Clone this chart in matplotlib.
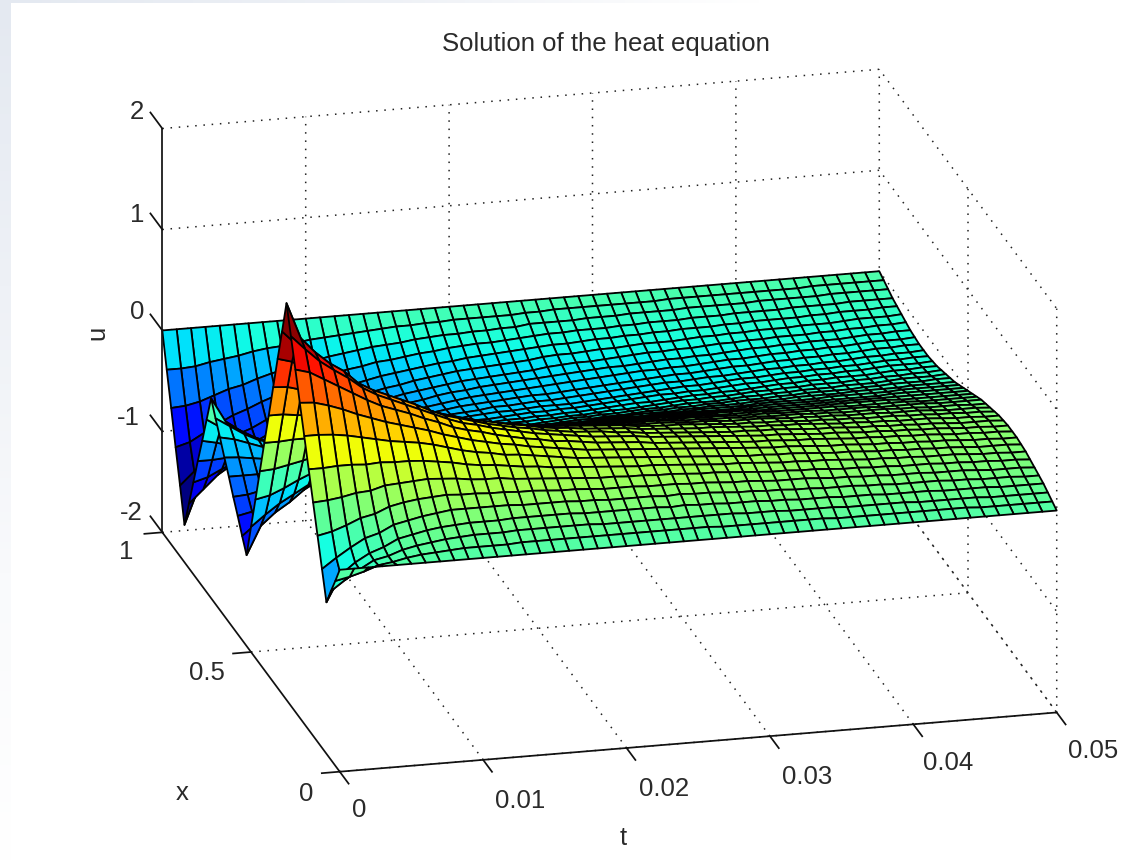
import matplotlib
matplotlib.use('Agg')
import matplotlib.pyplot as plt
import numpy as np
from matplotlib.colors import LinearSegmentedColormap

plt.rcParams['font.family'] = ['Liberation Sans', 'DejaVu Sans']

# Mesh nodes
t_nodes = [0.000, 0.001, 0.002, 0.003, 0.004, 0.005, 0.006, 0.007, 0.008, 0.009,
           0.010, 0.011, 0.012, 0.013, 0.014, 0.015, 0.016, 0.017, 0.018, 0.019,
           0.020, 0.021, 0.022, 0.023, 0.024, 0.025, 0.026, 0.027, 0.028, 0.029,
           0.030, 0.031, 0.032, 0.033, 0.034, 0.035, 0.036, 0.037, 0.038, 0.039,
           0.040, 0.041, 0.042, 0.043, 0.044, 0.045, 0.046, 0.047, 0.048, 0.049, 0.050]
x_nodes = [0.000, 0.025, 0.050, 0.075, 0.100, 0.125, 0.150, 0.175, 0.200, 0.225,
           0.250, 0.275, 0.300, 0.325, 0.350, 0.375, 0.400, 0.425, 0.450, 0.475,
           0.500, 0.525, 0.550, 0.575, 0.600, 0.625, 0.650, 0.675, 0.700, 0.725,
           0.750, 0.775, 0.800, 0.825, 0.850, 0.875, 0.900, 0.925, 0.950, 0.975, 1.000]

# u, in hundredths: one row per t, one column per x
u_hundredths = [
    [0,-17,-33,-50,-23,4,31,58,85,112,139,166,193,159,126,92,58,25,-9,-43,-76,-110,-97,-83,-70,-56,-43,-29,-16,-2,-29,-56,-82,-109,-136,-163,-130,-98,-65,-33,0],
    [0,-14,-23,-24,-13,7,32,58,85,111,135,152,157,145,122,91,58,25,-8,-40,-65,-82,-86,-80,-69,-56,-44,-32,-25,-26,-38,-59,-82,-105,-123,-127,-117,-94,-64,-33,0],
    [0,-10,-14,-13,-4,12,34,59,84,107,127,139,142,132,114,87,56,26,-5,-34,-55,-70,-76,-74,-66,-56,-46,-37,-34,-36,-47,-63,-81,-98,-110,-113,-104,-86,-61,-32,0],
    [0,-5,-6,-5,4,18,37,59,82,102,119,129,130,122,106,83,55,26,-2,-27,-47,-61,-68,-67,-63,-56,-48,-42,-41,-44,-52,-65,-79,-92,-101,-102,-94,-78,-56,-29,0],
    [0,-3,-3,0,8,21,38,58,79,96,111,120,121,114,99,79,54,27,2,-21,-39,-50,-55,-55,-53,-49,-45,-43,-45,-50,-58,-68,-78,-87,-92,-91,-84,-71,-51,-27,0],
    [0,0,2,7,15,27,42,59,76,91,103,109,108,101,88,69,47,24,2,-17,-32,-42,-48,-49,-47,-44,-42,-41,-44,-49,-57,-67,-76,-84,-88,-86,-79,-66,-48,-25,0],
    [0,2,5,10,18,30,43,58,73,86,96,101,100,94,81,65,45,25,5,-13,-27,-37,-43,-45,-45,-44,-43,-44,-46,-51,-58,-66,-73,-79,-81,-79,-72,-60,-43,-22,0],
    [0,3,7,13,21,32,44,58,71,82,91,95,94,88,76,61,44,25,7,-9,-23,-33,-39,-43,-44,-44,-44,-45,-48,-53,-58,-65,-71,-75,-76,-74,-67,-55,-39,-20,0],
    [0,4,9,15,23,33,45,57,69,78,86,89,88,82,72,58,42,25,9,-7,-19,-29,-36,-40,-42,-44,-45,-47,-49,-54,-58,-64,-69,-72,-72,-69,-62,-50,-36,-19,0],
    [0,5,10,16,25,34,44,55,66,74,80,83,82,76,67,55,41,25,10,-4,-16,-26,-33,-37,-41,-43,-45,-47,-50,-53,-58,-62,-66,-68,-67,-64,-57,-46,-33,-17,0],
    [0,5,11,17,25,33,43,53,62,69,75,77,75,70,62,51,38,24,10,-2,-14,-23,-30,-35,-38,-41,-43,-45,-48,-52,-55,-59,-62,-63,-62,-59,-52,-42,-30,-15,0],
    [0,5,11,17,25,33,41,50,58,65,69,71,69,65,57,48,36,23,11,-1,-11,-20,-27,-32,-36,-39,-41,-44,-47,-50,-53,-56,-58,-59,-57,-54,-47,-38,-27,-14,0],
    [0,5,11,17,25,32,40,48,55,61,65,66,65,61,54,45,34,23,11,0,-10,-18,-25,-30,-34,-37,-40,-43,-46,-48,-51,-54,-55,-55,-54,-50,-44,-35,-25,-13,0],
    [0,6,12,18,25,32,40,47,53,58,62,63,61,57,51,43,33,22,12,1,-8,-16,-23,-29,-33,-37,-40,-43,-45,-48,-50,-52,-53,-53,-51,-47,-41,-33,-23,-12,0],
    [0,6,12,18,24,31,38,45,50,55,58,59,57,54,48,40,31,21,12,2,-7,-15,-21,-27,-31,-35,-38,-41,-44,-46,-48,-50,-50,-50,-48,-44,-38,-30,-21,-11,0],
    [0,6,12,18,24,31,37,43,49,53,55,56,54,51,45,38,30,21,12,3,-6,-13,-20,-25,-30,-34,-37,-40,-43,-45,-47,-48,-49,-48,-45,-42,-36,-29,-20,-10,0],
    [0,6,12,18,24,30,36,42,47,50,52,53,51,48,43,36,29,20,12,3,-5,-12,-18,-24,-29,-33,-36,-39,-42,-44,-46,-47,-47,-46,-43,-39,-34,-27,-19,-9,0],
    [0,6,12,18,24,29,35,40,45,48,50,50,49,46,41,35,28,20,12,4,-4,-11,-17,-23,-28,-32,-35,-38,-41,-43,-44,-45,-45,-43,-41,-37,-32,-25,-17,-9,0],
    [0,6,12,17,23,29,34,39,43,46,47,48,46,43,39,33,27,19,12,4,-3,-10,-16,-22,-27,-31,-34,-37,-39,-41,-43,-43,-43,-41,-39,-35,-30,-24,-16,-8,0],
    [0,6,11,17,23,28,33,38,41,44,46,46,44,41,37,32,26,19,11,4,-3,-10,-15,-21,-26,-30,-33,-36,-39,-40,-42,-42,-41,-40,-37,-33,-29,-22,-15,-8,0],
    [0,6,11,17,22,27,32,37,40,42,44,44,42,40,36,31,25,18,11,4,-2,-9,-15,-20,-25,-29,-32,-35,-38,-39,-40,-41,-40,-38,-36,-32,-27,-21,-15,-7,0],
    [0,6,11,17,22,27,32,36,39,41,42,42,41,38,35,30,24,18,11,5,-2,-8,-14,-19,-24,-29,-32,-35,-37,-39,-40,-40,-39,-37,-35,-31,-26,-20,-14,-7,0],
    [0,6,11,17,22,27,31,35,38,40,41,41,40,37,34,29,24,18,11,5,-2,-8,-14,-19,-24,-28,-31,-34,-36,-38,-39,-39,-38,-36,-34,-30,-25,-20,-14,-7,0],
    [0,6,11,17,22,26,31,34,37,39,40,40,38,36,33,28,23,17,11,5,-1,-7,-13,-18,-23,-27,-31,-34,-36,-37,-38,-38,-37,-35,-33,-29,-24,-19,-13,-7,0],
    [0,6,11,16,21,26,30,34,36,38,39,39,37,35,32,27,22,17,11,5,-1,-7,-13,-18,-22,-26,-30,-33,-35,-37,-38,-38,-36,-34,-32,-28,-23,-18,-13,-7,0],
    [0,6,11,17,22,26,30,33,35,37,37,37,35,33,30,26,22,17,11,6,0,-6,-11,-17,-22,-26,-30,-33,-35,-37,-37,-37,-35,-33,-30,-26,-22,-17,-11,-6,0],
    [0,6,11,16,21,25,29,32,34,36,36,36,34,32,29,25,21,16,11,6,0,-6,-11,-16,-21,-25,-29,-32,-34,-36,-36,-36,-34,-32,-29,-25,-21,-16,-11,-6,0],
    [0,5,11,16,21,25,28,31,33,35,35,35,33,31,28,25,21,16,11,5,0,-5,-11,-16,-21,-25,-28,-31,-33,-35,-35,-35,-33,-31,-28,-25,-21,-16,-11,-5,0],
    [0,5,11,15,20,24,28,30,32,34,34,34,32,30,28,24,20,15,11,5,0,-5,-11,-15,-20,-24,-28,-30,-32,-34,-34,-34,-32,-30,-28,-24,-20,-15,-11,-5,0],
    [0,5,10,15,19,23,27,29,31,33,33,33,31,29,27,23,19,15,10,5,0,-5,-10,-15,-19,-23,-27,-29,-31,-33,-33,-33,-31,-29,-27,-23,-19,-15,-10,-5,0],
    [0,5,10,15,19,23,26,29,30,32,32,32,30,29,26,23,19,15,10,5,0,-5,-10,-15,-19,-23,-26,-29,-30,-32,-32,-32,-30,-29,-26,-23,-19,-15,-10,-5,0],
    [0,5,10,14,18,22,25,28,29,31,31,31,29,28,25,22,18,14,10,5,0,-5,-10,-14,-18,-22,-25,-28,-29,-31,-31,-31,-29,-28,-25,-22,-18,-14,-10,-5,0],
    [0,5,9,14,18,21,24,27,29,30,30,30,29,27,24,21,18,14,9,5,0,-5,-9,-14,-18,-21,-24,-27,-29,-30,-30,-30,-29,-27,-24,-21,-18,-14,-9,-5,0],
    [0,5,9,13,17,21,24,26,28,29,30,29,28,26,24,21,17,13,9,5,0,-5,-9,-13,-17,-21,-24,-26,-28,-29,-30,-29,-28,-26,-24,-21,-17,-13,-9,-5,0],
    [0,5,9,13,17,21,23,26,28,29,29,29,28,26,23,21,17,13,9,5,0,-5,-9,-13,-17,-21,-23,-26,-28,-29,-29,-29,-28,-26,-23,-21,-17,-13,-9,-5,0],
    [0,4,9,13,16,20,23,25,27,28,28,28,27,25,23,20,16,13,9,4,0,-4,-9,-13,-16,-20,-23,-25,-27,-28,-28,-28,-27,-25,-23,-20,-16,-13,-9,-4,0],
    [0,4,8,12,16,19,22,25,26,27,28,27,26,25,22,19,16,12,8,4,0,-4,-8,-12,-16,-19,-22,-25,-26,-27,-28,-27,-26,-25,-22,-19,-16,-12,-8,-4,0],
    [0,4,8,12,16,19,21,24,25,26,27,26,25,24,21,19,16,12,8,4,0,-4,-8,-12,-16,-19,-21,-24,-25,-26,-27,-26,-25,-24,-21,-19,-16,-12,-8,-4,0],
    [0,4,8,12,15,18,21,23,25,26,26,26,25,23,21,18,15,12,8,4,0,-4,-8,-12,-15,-18,-21,-23,-25,-26,-26,-26,-25,-23,-21,-18,-15,-12,-8,-4,0],
    [0,4,8,11,15,18,20,22,24,25,25,25,24,22,20,18,15,11,8,4,0,-4,-8,-11,-15,-18,-20,-22,-24,-25,-25,-25,-24,-22,-20,-18,-15,-11,-8,-4,0],
    [0,4,8,11,14,17,20,22,23,24,25,24,23,22,20,17,14,11,8,4,0,-4,-8,-11,-14,-17,-20,-22,-23,-24,-25,-24,-23,-22,-20,-17,-14,-11,-8,-4,0],
    [0,4,7,11,14,17,19,21,23,24,24,24,23,21,19,17,14,11,7,4,0,-4,-7,-11,-14,-17,-19,-21,-23,-24,-24,-24,-23,-21,-19,-17,-14,-11,-7,-4,0],
    [0,4,7,11,14,17,19,21,22,23,24,23,22,21,19,17,14,11,7,4,0,-4,-7,-11,-14,-17,-19,-21,-22,-23,-24,-23,-22,-21,-19,-17,-14,-11,-7,-4,0],
    [0,4,7,10,14,16,19,20,22,23,23,23,22,20,19,16,14,10,7,4,0,-4,-7,-10,-14,-16,-19,-20,-22,-23,-23,-23,-22,-20,-19,-16,-14,-10,-7,-4,0],
    [0,4,7,10,13,16,18,20,21,22,23,22,21,20,18,16,13,10,7,4,0,-4,-7,-10,-13,-16,-18,-20,-21,-22,-23,-22,-21,-20,-18,-16,-13,-10,-7,-4,0],
    [0,3,7,10,13,16,18,20,21,22,22,22,21,20,18,16,13,10,7,3,0,-3,-7,-10,-13,-16,-18,-20,-21,-22,-22,-22,-21,-20,-18,-16,-13,-10,-7,-3,0],
    [0,3,6,10,12,15,17,19,20,21,21,21,20,19,17,15,12,10,6,3,0,-3,-6,-10,-12,-15,-17,-19,-20,-21,-21,-21,-20,-19,-17,-15,-12,-10,-6,-3,0],
    [0,3,6,9,12,14,17,18,19,20,21,20,19,18,17,14,12,9,6,3,0,-3,-6,-9,-12,-14,-17,-18,-19,-20,-21,-20,-19,-18,-17,-14,-12,-9,-6,-3,0],
    [0,3,6,9,12,14,16,18,19,20,20,20,19,18,16,14,12,9,6,3,0,-3,-6,-9,-12,-14,-16,-18,-19,-20,-20,-20,-19,-18,-16,-14,-12,-9,-6,-3,0],
    [0,3,6,9,11,14,16,17,19,19,20,19,19,17,16,14,11,9,6,3,0,-3,-6,-9,-11,-14,-16,-17,-19,-19,-20,-19,-19,-17,-16,-14,-11,-9,-6,-3,0],
    [0,3,6,9,11,13,15,17,18,19,19,19,18,17,15,13,11,9,6,3,0,-3,-6,-9,-11,-13,-15,-17,-18,-19,-19,-19,-18,-17,-15,-13,-11,-9,-6,-3,0],
]

t_ticks = [0, 0.01, 0.02, 0.03, 0.04, 0.05]
x_ticks = [0, 0.5, 1]
u_ticks = [-2, -1, 0, 1, 2]
t_labels = ['0', '0.01', '0.02', '0.03', '0.04', '0.05']
x_labels = ['0', '0.5', '1']
u_labels = ['-2', '-1', '0', '1', '2']

W, H = 1144, 863
fig = plt.figure(figsize=(W / 100, H / 100), dpi=100, facecolor='white')


def put(px, py, s, **kw):
    # text placed in picture pixels
    fig.text(px / W, 1 - py / H, s, ha='center', va='center', color='#2a2a2a', **kw)


# pale blue slide background showing at the left and top edges
left = fig.add_axes([0, 0, 11 / W, 1])
left.imshow(np.linspace(0, 1, 256)[:, None], aspect='auto', vmin=0, vmax=1,
            cmap=LinearSegmentedColormap.from_list('edge', ['#e4e9f1', '#eef1f6', '#f9fafc', '#ffffff']))
left.axis('off')
top = fig.add_axes([0, 1 - 3 / H, 1, 3 / H])
top.imshow(np.linspace(0, 1, 256)[None, :], aspect='auto', vmin=0, vmax=1,
           cmap=LinearSegmentedColormap.from_list('edge2', ['#e4e9f1', '#eef1f6', '#ffffff', '#ffffff']))
top.axis('off')

ax = fig.add_axes([46.7 / W, -120.3 / H, 1096 / W, 1096 / H], projection='3d', proj_type='ortho')
ax.patch.set_alpha(0)
ax.view_init(elev=19.5, azim=-103.9)
ax.set_box_aspect((1, 1, 0.58))
ax.computed_zorder = False

T, X = np.meshgrid(t_nodes, x_nodes, indexing='ij')
U = np.array(u_hundredths) / 100
colors = plt.cm.jet(plt.Normalize(-1.4, 1.7)(U))

t0, t1 = t_ticks[0], t_ticks[-1]
x0, x1 = x_ticks[0], x_ticks[-1]
u0, u1 = u_ticks[0], u_ticks[-1]
grid = dict(color='#222222', lw=1.1, ls=(0, (1, 4.4)), zorder=1)
solid = dict(color='#111111', lw=1.25, zorder=3)

# dotted grid on the back walls and the floor
for u in u_ticks:
    ax.plot([t0, t1, t1], [x1, x1, x0], [u, u, u], **grid)
for t in t_ticks[1:]:
    ax.plot([t, t, t], [x0, x1, x1], [u0, u0, u1], **grid)
for x in x_ticks[:-1]:
    ax.plot([t0, t1, t1], [x, x, x], [u0, u0, u1], **grid)

ax.plot_surface(T, X, U, rstride=1, cstride=1, facecolors=colors, shade=False,
                edgecolor='black', linewidth=1.3, zorder=2)

# solid axis lines and ticks
ax.plot([t0, t1], [x0, x0], [u0, u0], **solid)
ax.plot([t0, t0], [x0, x1], [u0, u0], **solid)
ax.plot([t0, t0], [x1, x1], [u0, u1], **solid)
for t in t_ticks:
    ax.plot([t, t], [x0, x0 - 0.05], [u0, u0], **solid)
for x in x_ticks:
    ax.plot([t0, t0 - 0.00125], [x, x], [u0, u0], **solid)
for u in u_ticks:
    ax.plot([t0, t0], [x1, x1 + 0.067], [u, u], **solid)

ax.set_xlim(t0, t1, view_margin=0)
ax.set_ylim(x0, x1, view_margin=0)
ax.set_zlim(u0, u1, view_margin=0)
ax.set_axis_off()

# tick labels and titles
fs = 18.5
for s, (px, py) in zip(t_labels, [(359, 810), (520, 801), (664, 789), (807, 777), (948, 763), (1093, 751)]):
    put(px, py, s, fontsize=fs)
for s, (px, py) in zip(x_labels, [(306, 794), (207, 673), (126, 552)]):
    put(px, py, s, fontsize=fs)
for s, (px, py) in zip(u_labels, [(131, 513), (128, 418), (137, 312), (137, 215), (137, 112)]):
    put(px, py, s, fontsize=fs)
put(606, 44, 'Solution of the heat equation', fontsize=fs)
put(623, 838, 't', fontsize=fs)
put(182, 793, 'x', fontsize=fs)
put(97, 333, 'u', fontsize=fs, rotation=90)

fig.savefig('out.png', dpi=100)
